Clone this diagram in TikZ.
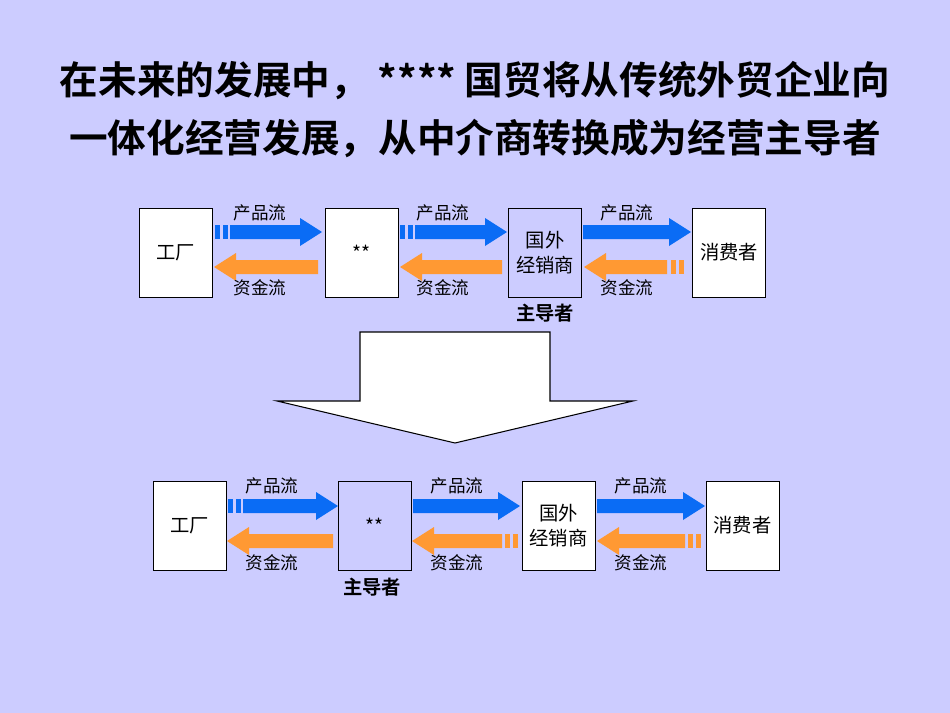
\documentclass[tikz,border=0pt]{standalone}
\usepackage{fontspec}
\setmainfont{Noto Sans CJK SC}
\newfontfamily\boldcjk{Noto Sans CJK SC Bold}
\begin{document}
\definecolor{bg}{HTML}{CCCCFF}
\definecolor{blu}{HTML}{0A6CF5}
\definecolor{org}{HTML}{FF9933}
\newcommand{\rarr}[4]{% tail, tip, y, color  (right-pointing)
  \fill[#4] (#1,#3-7) -- (#2-22,#3-7) -- (#2-22,#3-14) -- (#2,#3) -- (#2-22,#3+14) -- (#2-22,#3+7) -- (#1,#3+7) -- cycle;}
\newcommand{\larr}[4]{% tail, tip, y, color (left-pointing)
  \fill[#4] (#1,#3-7) -- (#2+22,#3-7) -- (#2+22,#3-14) -- (#2,#3) -- (#2+22,#3+14) -- (#2+22,#3+7) -- (#1,#3+7) -- cycle;}
\newcommand{\dsh}[3]{% x start, y, color: two bars
  \fill[#3] (#1,#2-7) rectangle ++(5,14); \fill[#3] (#1+8,#2-7) rectangle ++(5,14);}
\begin{tikzpicture}[x=0.02cm,y=-0.02cm,
  box/.style={draw=black,fill=white,minimum width=1.46cm,minimum height=1.78cm,inner sep=0pt,align=center,font=\fontsize{11}{14}\selectfont},
  lbl/.style={font=\fontsize{10}{12}\selectfont},
  lead/.style={font=\boldcjk\fontsize{11}{13}\selectfont}]
\fill[bg] (0,0) rectangle (950,713);
\useasboundingbox (0,0) rectangle (950,713);
\node[font=\boldcjk\fontsize{22}{33}\selectfont,align=center] (title) at (475,110) {在未来的发展中， **** 国贸将从传统外贸企业向\\一体化经营发展，从中介商转换成为经营主导者};
% top row
\node[box] (a1) at (175.5,252.5) {工厂};
\node[box] (b1) at (361.5,252.5) {**};
\node[box,fill=bg] (c1) at (545,252.5) {国外\\经销商};
\node[box] (d1) at (729,252.5) {消费者};
\dsh{215}{232}{blu}\rarr{230}{322}{232}{blu}
\dsh{400}{232}{blu}\rarr{415}{507}{232}{blu}
\rarr{583}{691}{232}{blu}
\larr{318}{214}{267}{org}
\larr{502}{400}{267}{org}
\dsh{671}{267}{org}\larr{667}{584}{267}{org}
\foreach \x in {260,443,627}{\node[lbl] at (\x,213) {产品流}; \node[lbl] at (\x,288) {资金流};}
\node[lead] (m1) at (545,313) {主导者};
% big arrow
\draw[fill=white,line width=0.6pt] (360,332) -- (550,332) -- (550,401) -- (633,401) -- (455,443) -- (277,401) -- (360,401) -- cycle;
% bottom row
\node[box] (a2) at (189.5,525.5) {工厂};
\node[box,fill=bg] (b2) at (374.5,525.5) {**};
\node[box] (c2) at (558.5,525.5) {国外\\经销商};
\node[box] (d2) at (742.5,525.5) {消费者};
\dsh{228}{506}{blu}\rarr{243}{338}{506}{blu}
\rarr{413}{520}{506}{blu}
\rarr{597}{705}{506}{blu}
\larr{333}{227}{541}{org}
\dsh{505}{541}{org}\larr{502}{412}{541}{org}
\dsh{688}{541}{org}\larr{685}{597}{541}{org}
\foreach \x in {272,457,641}{\node[lbl] at (\x,486) {产品流}; \node[lbl] at (\x,563) {资金流};}
\node[lead] (m2) at (372,587) {主导者};
\end{tikzpicture}
\end{document}
